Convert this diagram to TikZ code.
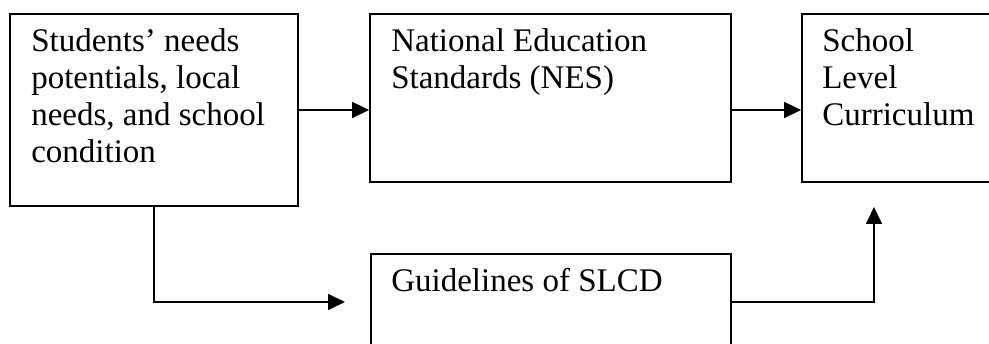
\documentclass[tikz,border=0pt]{standalone}
\usepackage{fontspec}
\setmainfont{Liberation Serif}
\usetikzlibrary{arrows.meta,calc}
\begin{document}
\begin{tikzpicture}[x=1pt,y=1pt,
  box/.style={draw, line width=1.8pt, rectangle, inner sep=0pt},
  txt/.style={anchor=north west, inner sep=0pt, align=left, font=\fontsize{33}{37}\selectfont},
  arr/.style={line width=1.8pt, -{Triangle[length=17pt,width=16pt]}}]
\useasboundingbox (0,0) rectangle (989,344);
\clip (0,0) rectangle (989,344);
\fill[white] (0,0) rectangle (989,344);
\node[box, minimum width=288pt, minimum height=192pt] (b1) at (154,234) {};
\node[box, minimum width=361pt, minimum height=168pt] (b2) at (550.5,246) {};
\node[box, minimum width=300pt, minimum height=168pt] (b3) at (952,246) {};
\node[box, minimum width=360pt, minimum height=146pt] (b4) at (551,17) {};
\node[txt] (t1) at ($(b1.north west)+(22,-15)$) {Students’ needs\\potentials, local\\needs, and school\\condition};
\node[txt] (t2) at ($(b2.north west)+(22,-15)$) {National Education\\Standards (NES)};
\node[txt] (t3) at ($(b3.north west)+(21,-15)$) {School\\Level\\Curriculum};
\node[txt] (t4) at ($(b4.north west)+(21,-15)$) {Guidelines of SLCD};
\coordinate (e1) at (345,42);
\coordinate (e2) at (874,137);
\draw[arr] (b1.east) -- (b1.east -| b2.west);
\draw[arr] (b1.east -| b2.east) -- (b1.east -| b3.west);
\draw[arr] (b1.south) |- (e1);
\draw[arr] (b4.east |- e1) -| (e2);
\end{tikzpicture}
\end{document}
